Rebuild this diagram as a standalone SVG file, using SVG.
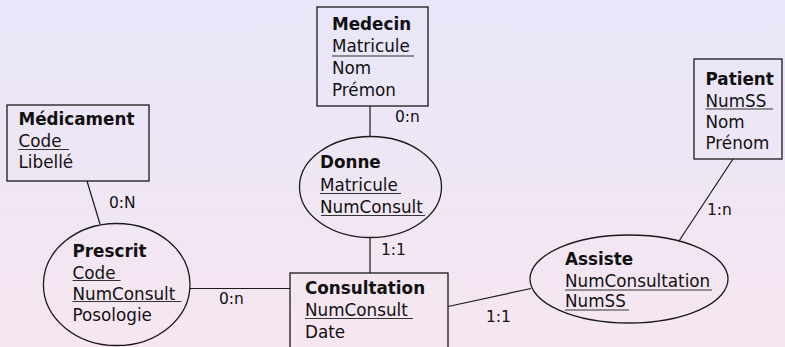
<svg xmlns="http://www.w3.org/2000/svg" width="785" height="347" viewBox="0 0 785 347">
<defs>
<linearGradient id="bg" x1="0" y1="0" x2="0" y2="1">
<stop offset="0" stop-color="#e8e6f9"/>
<stop offset="1" stop-color="#f6e6f0"/>
</linearGradient>
<style>
.shape{fill:none;stroke:#1a1a1a;stroke-width:1.3}
.conn{stroke:#1a1a1a;stroke-width:1.2;fill:none}
.ul{stroke:#333;stroke-width:1.2}
text{font-family:"DejaVu Sans",Verdana,sans-serif;fill:#111}
.t{font-size:16.8px}
.b{font-size:16.8px;font-weight:bold}
.lbl{font-size:15.5px}
</style>
</defs>
<rect x="0" y="0" width="785" height="347" fill="url(#bg)"/>

<g id="connectors">
<line class="conn" x1="370" y1="106" x2="370" y2="137"/>
<text class="lbl" x="395" y="122">0:n</text>
<line class="conn" x1="370" y1="237" x2="370" y2="273"/>
<text class="lbl" x="381" y="255">1:1</text>
<line class="conn" x1="87" y1="181" x2="100" y2="224"/>
<text class="lbl" x="109" y="208">0:N</text>
<line class="conn" x1="189" y1="288.5" x2="290" y2="288.5"/>
<text class="lbl" x="219" y="304">0:n</text>
<line class="conn" x1="733" y1="159" x2="679" y2="241"/>
<text class="lbl" x="707" y="215">1:n</text>
<line class="conn" x1="448" y1="306.5" x2="531" y2="288.5"/>
<text class="lbl" x="486" y="322">1:1</text>
</g>

<g id="medecin">
<rect class="shape" x="317" y="7" width="111" height="99"/>
<text class="b" x="332" y="30">Medecin</text>
<text class="t" x="332" y="52">Matricule</text>
<line class="ul" x1="332" y1="56" x2="414" y2="56"/>
<text class="t" x="332" y="74">Nom</text>
<text class="t" x="332" y="96">Prémon</text>
</g>

<g id="donne">
<ellipse class="shape" cx="370.5" cy="187" rx="71" ry="50.5"/>
<text class="b" x="320" y="168">Donne</text>
<text class="t" x="320" y="190.5">Matricule</text>
<line class="ul" x1="320" y1="193.5" x2="401" y2="193.5"/>
<text class="t" x="320" y="212.5">NumConsult</text>
<line class="ul" x1="321" y1="215.5" x2="425" y2="215.5"/>
</g>

<g id="consultation">
<rect class="shape" x="290" y="273" width="158" height="90"/>
<text class="b" x="305" y="294">Consultation</text>
<text class="t" x="305" y="316">NumConsult</text>
<line class="ul" x1="305" y1="318.5" x2="413" y2="318.5"/>
<text class="t" x="305" y="338">Date</text>
</g>

<g id="medicament">
<rect class="shape" x="7" y="105" width="142" height="76"/>
<text class="b" x="18.5" y="124.5">Médicament</text>
<text class="t" x="18.5" y="146.5">Code</text>
<line class="ul" x1="18.5" y1="149.5" x2="69" y2="149.5"/>
<text class="t" x="18.5" y="167.5">Libellé</text>
</g>

<g id="prescrit">
<ellipse class="shape" cx="116.7" cy="284.5" rx="73.3" ry="61"/>
<text class="b" x="72.5" y="257">Prescrit</text>
<text class="t" x="72.5" y="278.5">Code</text>
<line class="ul" x1="72.5" y1="280.5" x2="120.5" y2="280.5"/>
<text class="t" x="72.5" y="299.5">NumConsult</text>
<line class="ul" x1="72.5" y1="301.5" x2="181.5" y2="301.5"/>
<text class="t" x="72.5" y="320.5">Posologie</text>
</g>

<g id="patient">
<rect class="shape" x="694" y="59" width="88" height="100"/>
<text class="b" x="705.5" y="85">Patient</text>
<text class="t" x="705.5" y="106.5">NumSS</text>
<line class="ul" x1="705.5" y1="109" x2="773" y2="109"/>
<text class="t" x="705.5" y="128">Nom</text>
<text class="t" x="705.5" y="149">Prénom</text>
</g>

<g id="assiste">
<ellipse class="shape" cx="629" cy="279" rx="99" ry="44"/>
<text class="b" x="565" y="265">Assiste</text>
<text class="t" x="565" y="286.5">NumConsultation</text>
<line class="ul" x1="565" y1="290" x2="712" y2="290"/>
<text class="t" x="565" y="306.5">NumSS</text>
<line class="ul" x1="565" y1="310" x2="629" y2="310"/>
</g>
</svg>
